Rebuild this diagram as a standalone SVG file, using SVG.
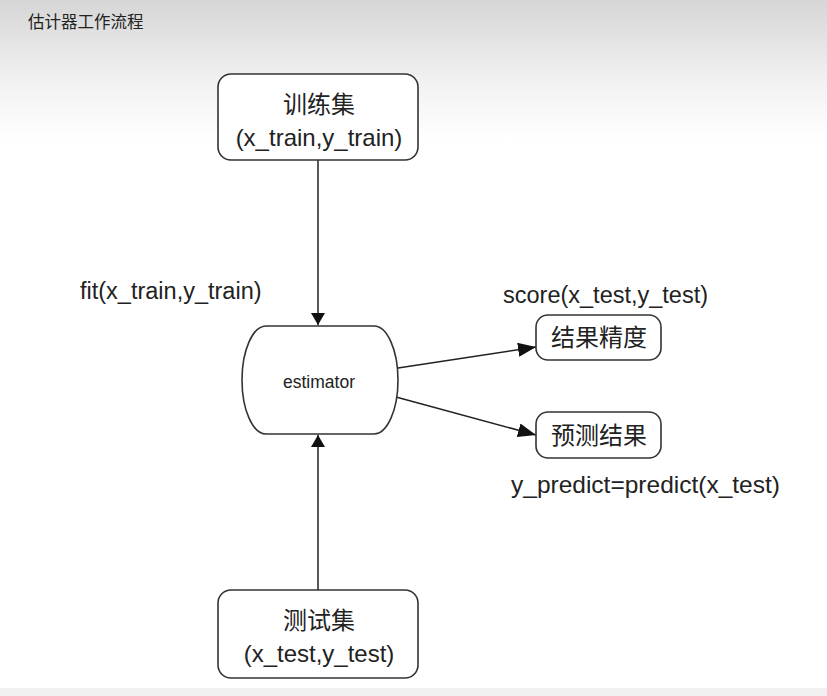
<svg xmlns="http://www.w3.org/2000/svg" width="827" height="696" viewBox="0 0 827 696">
<defs>
<linearGradient id="bg" x1="0" y1="0" x2="0" y2="1">
<stop offset="0" stop-color="#d6d6d6"/>
<stop offset="0.6" stop-color="#f2f2f2"/>
<stop offset="1" stop-color="#ffffff"/>
</linearGradient>
<marker id="ahv" viewBox="0 0 12 16" refX="12" refY="8" markerWidth="12" markerHeight="16" markerUnits="userSpaceOnUse" orient="auto">
<path d="M0,1 L12,8 L0,15 z" fill="#111"/>
</marker>
<marker id="ahd" viewBox="0 0 18 14" refX="18" refY="7" markerWidth="18" markerHeight="14" markerUnits="userSpaceOnUse" orient="auto">
<path d="M0,0 L18,7 L0,14 z" fill="#111"/>
</marker>
</defs>
<style>
.box{fill:#fff;stroke:#333;stroke-width:1.6}
.t{font-family:"Liberation Sans","Noto Sans CJK SC",sans-serif;fill:#222}
.cjk{font-family:"Noto Sans CJK SC","Liberation Sans",sans-serif;fill:#222}
.edge{stroke:#222;stroke-width:1.5;fill:none}
</style>
<rect x="0" y="0" width="827" height="696" fill="#fff"/>
<rect x="0" y="0" width="827" height="140" fill="url(#bg)"/>
<rect x="0" y="688" width="827" height="8" fill="#f0f0f0"/>
<text class="cjk" x="28" y="28" font-size="16.5" fill="#333">估计器工作流程</text>

<g id="connectors">
<line class="edge" x1="318" y1="160" x2="318" y2="325" marker-end="url(#ahv)"/>
<line class="edge" x1="318" y1="590" x2="318" y2="435" marker-end="url(#ahv)"/>
<line class="edge" x1="398" y1="368" x2="536" y2="347" marker-end="url(#ahd)"/>
<line class="edge" x1="396" y1="397" x2="536" y2="435" marker-end="url(#ahd)"/>
</g>

<g id="train">
<rect class="box" x="218" y="74" width="200" height="86" rx="13"/>
<text class="cjk" x="319" y="113" font-size="24" text-anchor="middle">训练集</text>
<text class="t" x="319" y="146" font-size="24" text-anchor="middle">(x_train,y_train)</text>
</g>

<g id="estimator">
<path class="box" d="M266,326 L374,326 A24,54 0 0 1 374,434 L266,434 A24,54 0 0 1 266,326 Z"/>
<text class="t" x="319" y="388" font-size="17.5" text-anchor="middle">estimator</text>
</g>

<g id="test">
<rect class="box" x="218" y="590" width="200" height="88" rx="13"/>
<text class="cjk" x="319" y="629" font-size="24" text-anchor="middle">测试集</text>
<text class="t" x="319" y="662" font-size="24" text-anchor="middle">(x_test,y_test)</text>
</g>

<g id="accuracy">
<rect class="box" x="536" y="315" width="125" height="45" rx="12"/>
<text class="cjk" x="599" y="346" font-size="24" text-anchor="middle">结果精度</text>
</g>

<g id="prediction">
<rect class="box" x="536" y="412" width="125" height="46" rx="12"/>
<text class="cjk" x="599" y="444" font-size="24" text-anchor="middle">预测结果</text>
</g>

<g id="labels">
<text class="t" x="80" y="299" font-size="23.5">fit(x_train,y_train)</text>
<text class="t" x="503" y="303" font-size="23.5">score(x_test,y_test)</text>
<text class="t" x="511" y="493" font-size="24.5">y_predict=predict(x_test)</text>
</g>
</svg>
